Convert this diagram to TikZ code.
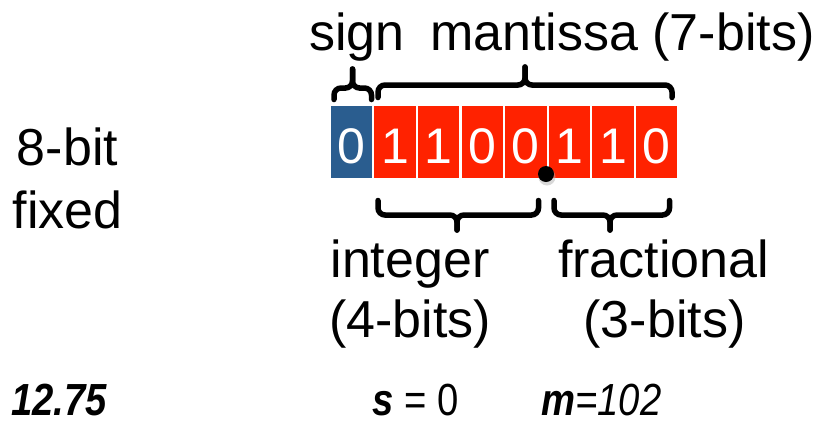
\documentclass[tikz,border=0pt]{standalone}
\usepackage{fontspec}
\setmainfont{Liberation Sans}
\newfontfamily\narrowfont[FakeStretch=0.85]{Liberation Sans}
\definecolor{signblue}{RGB}{42,93,143}
\definecolor{bitred}{RGB}{255,34,0}
\begin{document}
\begin{tikzpicture}[x=1pt,y=-1pt,
  cell/.style={minimum width=41.5pt,minimum height=72pt,inner sep=0pt,text=white,
    font=\fontsize{50}{60}\selectfont,text height=42.6pt,text depth=0pt},
  signcell/.style={cell,fill=signblue},
  bitcell/.style={cell,fill=bitred},
  lbl/.style={inner sep=0pt,font=\fontsize{52}{60}\selectfont},
  brace/.style={line width=5.5pt,rounded corners=7pt,line cap=round},
  val/.style={inner sep=0pt,anchor=base west,text depth=0pt,
    font=\narrowfont\fontsize{45}{50}\selectfont}]
\useasboundingbox (0,0) rectangle (825,426);

% bit cells: sign bit, then 7 mantissa bits
\node[signcell] (c0) at (351.45,142) {0};
\node[bitcell]  (c1) at (395.05,142) {1};
\node[bitcell]  (c2) at (438.65,142) {1};
\node[bitcell]  (c3) at (482.25,142) {0};
\node[bitcell]  (c4) at (525.85,142) {0};
\node[bitcell]  (c5) at (569.45,142) {1};
\node[bitcell]  (c6) at (613.05,142) {1};
\node[bitcell]  (c7) at (656.65,142) {0};

% binary point
\fill[black!30,opacity=.5] (547,177) circle (8.5);
\fill[black] (546,174) circle (8);

% braces above
\draw[brace] (334,99.5) -- (334,88) -- (352.5,88) -- (352.5,69);
\draw[brace] (371.5,99.5) -- (371.5,88) -- (352.5,88) -- (352.5,69);
\draw[brace] (378,97.5) -- (378,85) -- (525,85) -- (525,67);
\draw[brace] (672,97.5) -- (672,85) -- (525,85) -- (525,67);

% braces below
\draw[brace] (378,200.5) -- (378,215) -- (457,215) -- (457,230);
\draw[brace] (538.5,200.5) -- (538.5,215) -- (457,215) -- (457,230);
\draw[brace] (554,200.5) -- (554,215) -- (610,215) -- (610,230);
\draw[brace] (669.5,200.5) -- (669.5,215) -- (610,215) -- (610,230);

% labels
\node[lbl,anchor=base] (fmt1) at (67.5,165) {8-bit};
\node[lbl,anchor=base] (fmt2) at (67.5,228) {fixed};
\node[lbl,anchor=base west] (sgn) at (309,50) {sign};
\node[lbl,anchor=base west] (man) at (430,50) {mantissa (7-bits)};
\node[lbl,anchor=base] (int1) at (410,277) {integer};
\node[lbl,anchor=base] (int2) at (410,337) {(4-bits)};
\node[lbl,anchor=base] (frc1) at (663.5,277) {fractional};
\node[lbl,anchor=base] (frc2) at (664.5,337) {(3-bits)};

% values
\node[val] (v1) at (11,415.5) {\bfseries\itshape 12.75};
\node[val] (v2) at (372,415.5) {\textbf{\textit{s}} = 0};
\node[val] (v3) at (541,415.5) {\textbf{\textit{m}}\textit{=102}};
\end{tikzpicture}
\end{document}
